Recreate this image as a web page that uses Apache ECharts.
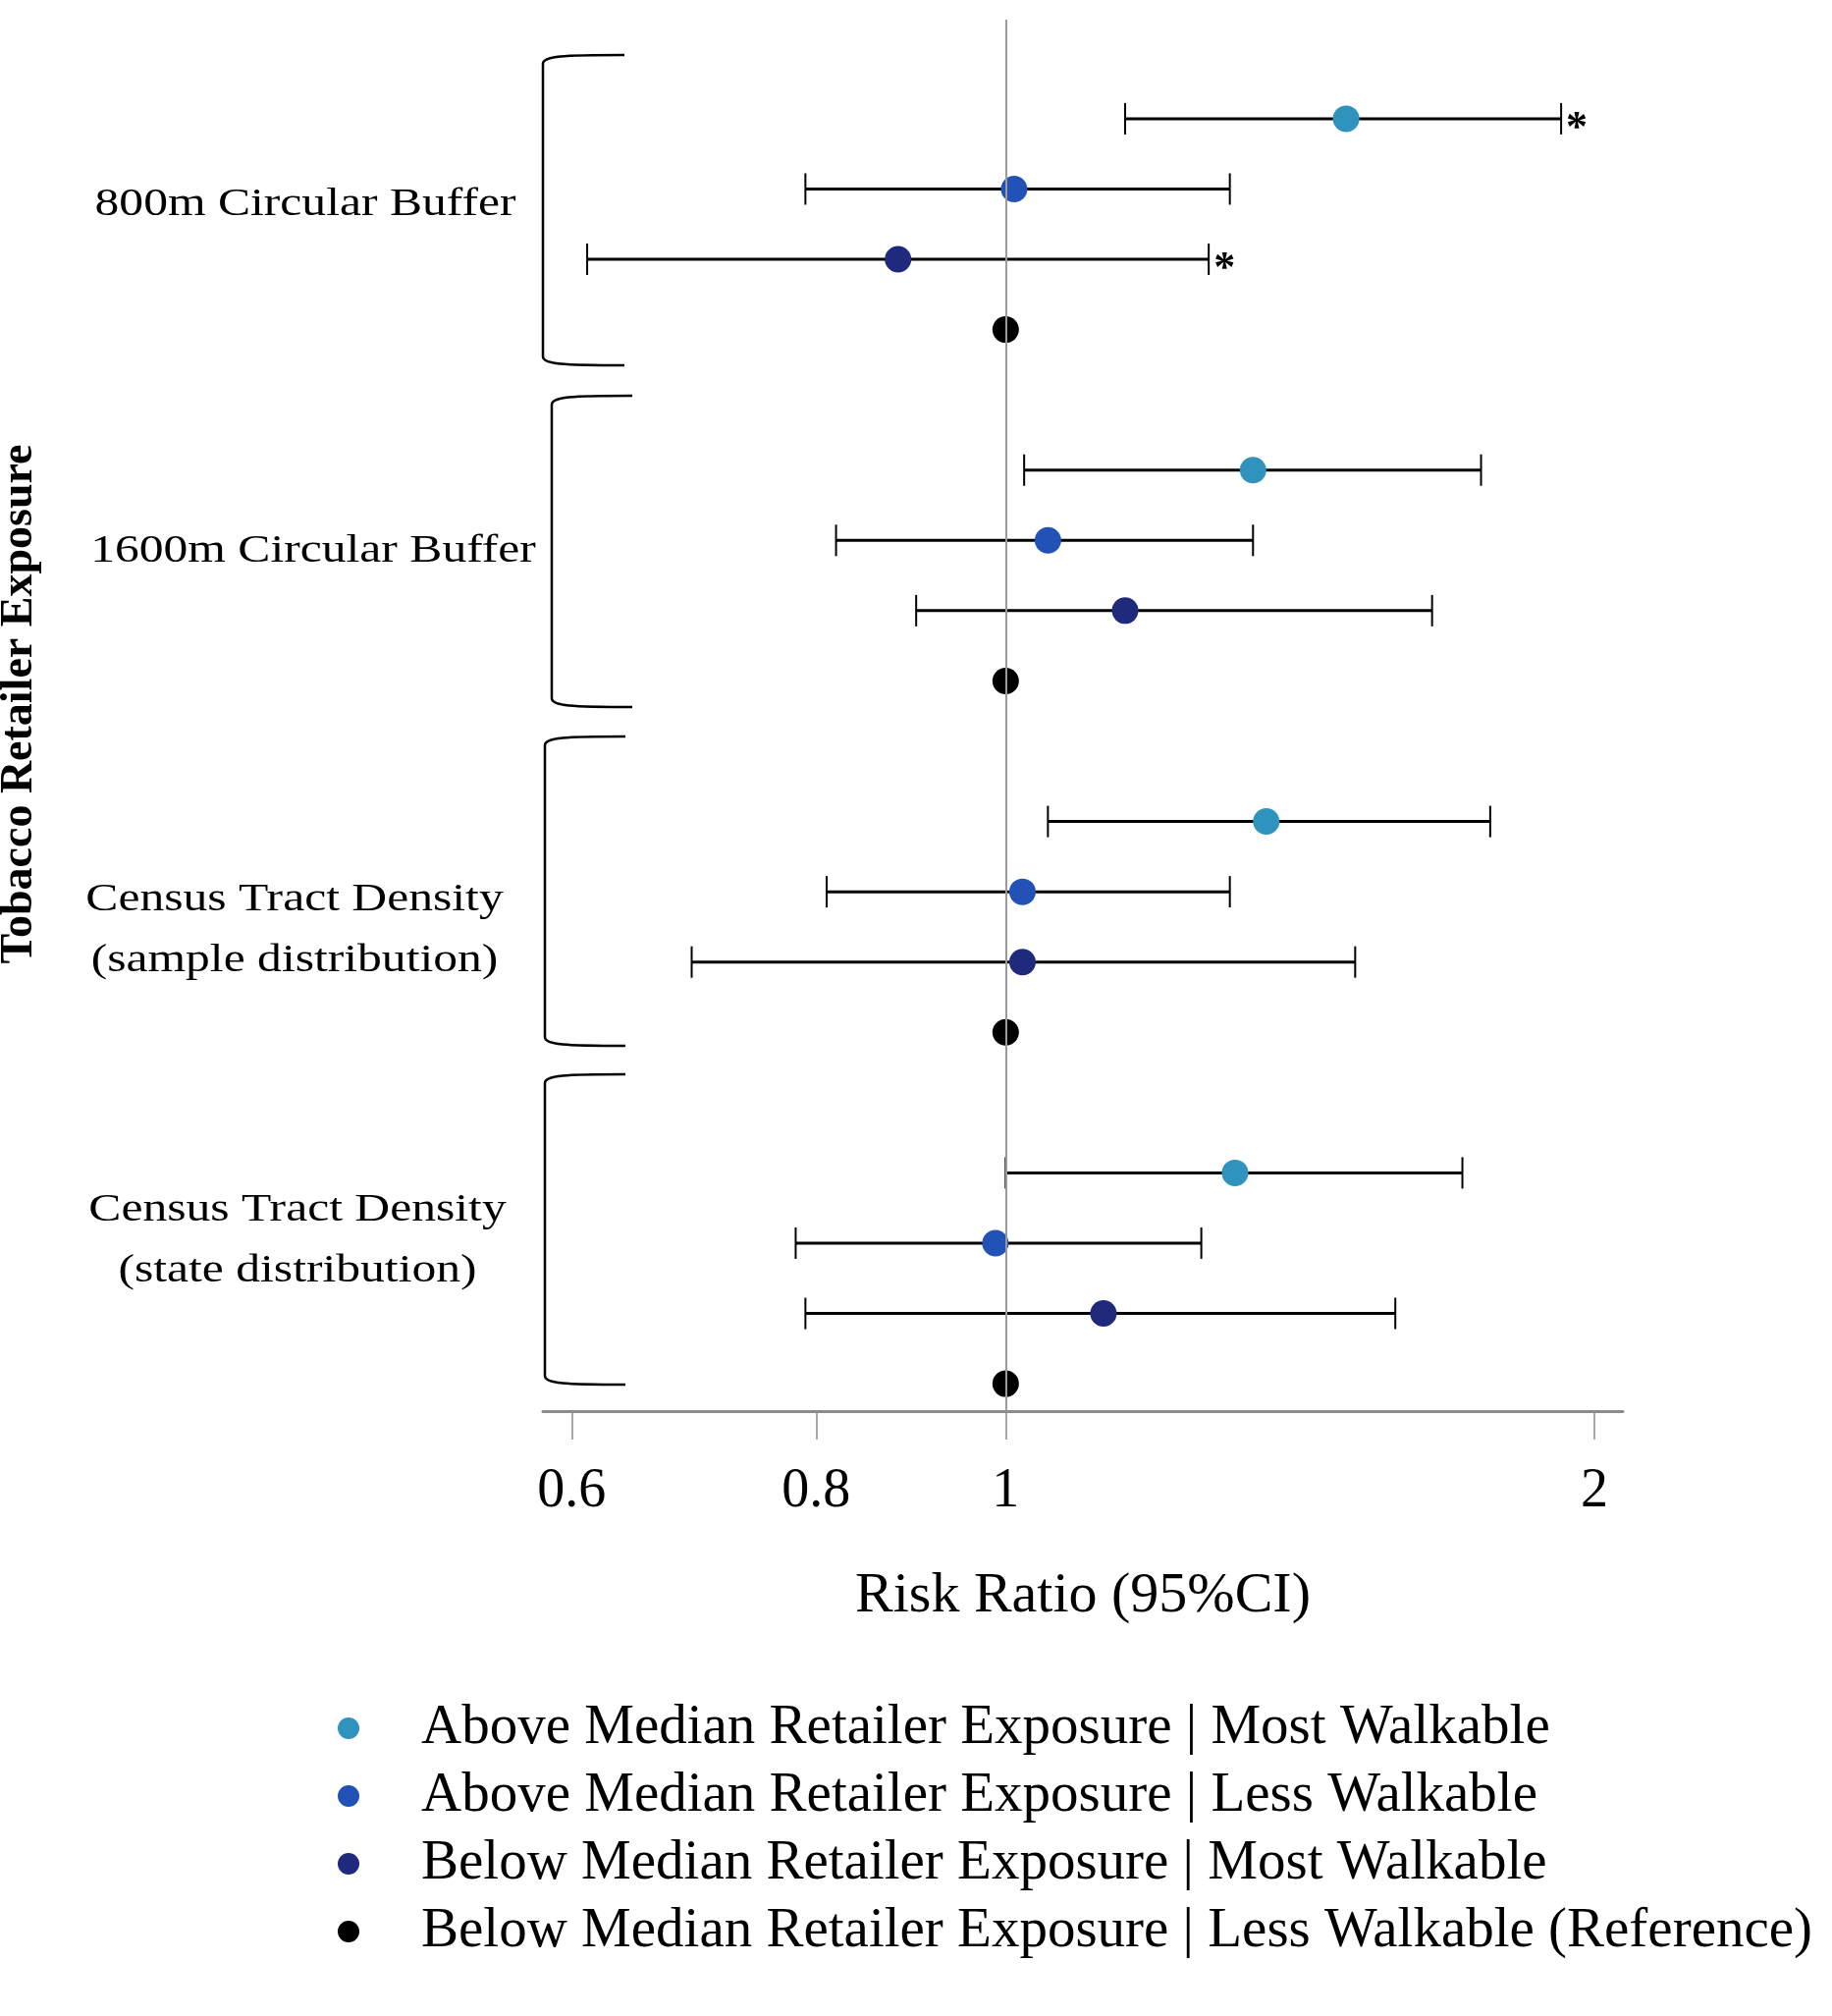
<!DOCTYPE html>
<html>
<head>
<meta charset="utf-8">
<title>Tobacco retailer exposure forest plot</title>
<script src="https://cdn.jsdelivr.net/npm/echarts@6/dist/echarts.min.js"></script>
<style>
html, body { margin: 0; padding: 0; background: #fff; }
#chart { width: 1866px; height: 2053px; }
</style>
</head>
<body>
<div id="chart"></div>
<script>
// exposure measures (one block of rows each)
var groups = ['800m Circular Buffer', '1600m Circular Buffer', 'Census Tract Density\n(sample distribution)', 'Census Tract Density\n(state distribution)'];
var seriesNames = [
	'Above Median Retailer Exposure | Most Walkable',
	'Above Median Retailer Exposure | Less Walkable',
	'Below Median Retailer Exposure | Most Walkable',
	'Below Median Retailer Exposure | Less Walkable (Reference)'
];

// risk ratios and 95% CI, one value per group
var aboveMostRR = [1.493, 1.338, 1.359, 1.310];
var aboveMostLow = [1.151, 1.022, 1.051, 1.000];
var aboveMostHigh = [1.923, 1.750, 1.769, 1.712];
var aboveMostSig = [true, false, false, false];

var aboveLessRR = [1.010, 1.051, 1.020, 0.988];
var aboveLessLow = [0.790, 0.819, 0.810, 0.781];
var aboveLessHigh = [1.302, 1.338, 1.302, 1.259];
var aboveLessSig = [false, false, false, false];

var belowMostRR = [0.881, 1.151, 1.020, 1.122];
var belowMostLow = [0.611, 0.900, 0.691, 0.790];
var belowMostHigh = [1.270, 1.652, 1.509, 1.582];
var belowMostSig = [true, false, false, false];

var referenceRR = [1, 1, 1, 1];

var tickValues = [0.6, 0.8, 1, 2];

var colors = ['#2f93bd', '#2352b7', '#1f2a7c', '#000000'];
var serif = '"Liberation Serif", "Times New Roman", serif';

var rrList = [aboveMostRR, aboveLessRR, belowMostRR, referenceRR];
var ciList = [
	[aboveMostLow, aboveMostHigh, aboveMostSig],
	[aboveLessLow, aboveLessHigh, aboveLessSig],
	[belowMostLow, belowMostHigh, belowMostSig]
];

function rowOf(g, s) {
	return g * 5 + s;
}

// error bars: [ln low, ln high, row, significant]
var ciData = [];
for(var s = 0; s < ciList.length; s++) {
	for(var g = 0; g < groups.length; g++) {
		ciData.push([Math.log(ciList[s][0][g]), Math.log(ciList[s][1][g]), rowOf(g, s), ciList[s][2][g] ? 1 : 0]);
	}
}

var chart = echarts.init(document.getElementById('chart'));

var series = [{
	type: 'custom',
	name: 'ci',
	z: 1,
	clip: false,
	silent: true,
	encode: { x: [0, 1], y: 2 },
	data: ciData,
	renderItem: function(params, api) {
		var p1 = api.coord([api.value(0), api.value(2)]);
		var p2 = api.coord([api.value(1), api.value(2)]);
		var cap = 16;
		var children = [{
			type: 'line',
			shape: { x1: p1[0], y1: p1[1], x2: p2[0], y2: p2[1] },
			style: { stroke: '#000', lineWidth: 3 }
		}, {
			type: 'line',
			shape: { x1: p1[0], y1: p1[1] - cap, x2: p1[0], y2: p1[1] + cap },
			style: { stroke: '#000', lineWidth: 2 }
		}, {
			type: 'line',
			shape: { x1: p2[0], y1: p2[1] - cap, x2: p2[0], y2: p2[1] + cap },
			style: { stroke: '#000', lineWidth: 2 }
		}];
		if(api.value(3)) {
			children.push({
				type: 'text',
				style: {
					text: '*',
					x: p2[0] + 5,
					y: p2[1] + 11,
					font: 'bold 44px ' + serif,
					textAlign: 'left',
					textVerticalAlign: 'middle',
					fill: '#000'
				}
			});
		}
		return { type: 'group', children: children };
	}
}, {
	type: 'line',
	name: 'ref',
	z: 2,
	data: [],
	silent: true,
	markLine: {
		silent: true,
		symbol: 'none',
		label: { show: false },
		lineStyle: { color: '#9a9a9a', width: 2, type: 'solid' },
		data: [{ xAxis: 0 }]
	}
}];

for(var k = 0; k < seriesNames.length; k++) {
	var pts = [];
	for(var g2 = 0; g2 < groups.length; g2++) {
		pts.push([Math.log(rrList[k][g2]), rowOf(g2, k)]);
	}
	series.push({
		type: 'scatter',
		name: seriesNames[k],
		z: 3,
		symbol: 'circle',
		symbolSize: 27,
		itemStyle: { color: colors[k], opacity: 1 },
		data: pts
	});
}

// group labels, brackets and the vertical axis title at the left
var labelPos = [[311, 208], [319, 561], [300, 947], [303, 1263]];
var bracketPos = [[553, 56, 372, 636], [562, 403, 720, 644], [555, 750, 1065, 637], [555, 1094, 1410, 637]];
var graphics = [{
	type: 'text',
	x: 20,
	y: 717,
	rotation: Math.PI / 2,
	style: {
		text: 'Tobacco Retailer Exposure',
		font: 'bold 46px ' + serif,
		textAlign: 'center',
		textVerticalAlign: 'middle',
		fill: '#000'
	}
}];
var bStyle = { fill: 'none', stroke: '#000', lineWidth: 2.5 };
for(var i = 0; i < groups.length; i++) {
	graphics.push({
		type: 'text',
		x: labelPos[i][0],
		y: labelPos[i][1],
		scaleX: 1.21,
		style: {
			text: groups[i],
			font: '41px ' + serif,
			lineHeight: 62,
			textAlign: 'center',
			textVerticalAlign: 'middle',
			fill: '#000'
		}
	});
	var b = bracketPos[i];
	graphics.push({
		type: 'bezierCurve',
		shape: { x1: b[0], y1: b[1] + 9, cpx1: b[0], cpy1: b[1] + 1, cpx2: b[0] + 20, cpy2: b[1], x2: b[3], y2: b[1] },
		style: bStyle
	}, {
		type: 'line',
		shape: { x1: b[0], y1: b[1] + 9, x2: b[0], y2: b[2] - 9 },
		style: bStyle
	}, {
		type: 'bezierCurve',
		shape: { x1: b[0], y1: b[2] - 9, cpx1: b[0], cpy1: b[2] - 1, cpx2: b[0] + 20, cpy2: b[2], x2: b[3], y2: b[2] },
		style: bStyle
	});
}

var option = {
	backgroundColor: '#fff',
	animation: false,
	grid: {
		left: 553,
		right: 213,
		top: 20,
		bottom: 616,
		containLabel: false,
		outerBoundsMode: 'none'
	},
	xAxis: {
		type: 'value',
		position: 'bottom',
		min: Math.log(0.58),
		max: Math.log(2.068),
		name: 'Risk Ratio (95%CI)',
		nameLocation: 'middle',
		nameGap: 160,
		nameTextStyle: {
			fontFamily: serif,
			fontSize: 58,
			color: '#000'
		},
		axisLine: { show: true, onZero: false, lineStyle: { color: '#8c8c8c', width: 3 } },
		axisTick: {
			show: true,
			length: 29,
			lineStyle: { color: '#8c8c8c', width: 1.5 },
			customValues: tickValues.map(function(v) { return Math.log(v); })
		},
		axisLabel: {
			margin: 54,
			fontFamily: serif,
			fontSize: 56,
			color: '#000',
			customValues: tickValues.map(function(v) { return Math.log(v); }),
			formatter: function(v) {
				return String(+Math.exp(v).toFixed(1));
			}
		},
		splitLine: { show: false }
	},
	yAxis: {
		type: 'value',
		inverse: true,
		min: -1.41,
		max: 18.39,
		axisLine: { show: false },
		axisTick: { show: false },
		axisLabel: { show: false },
		splitLine: { show: false }
	},
	legend: {
		data: seriesNames,
		orient: 'vertical',
		left: 344,
		top: 1730,
		padding: 0,
		itemWidth: 22,
		itemHeight: 22,
		itemGap: 9,
		icon: 'circle',
		textStyle: {
			fontFamily: serif,
			fontSize: 57,
			lineHeight: 60,
			color: '#000',
			padding: [0, 0, 0, 58]
		}
	},
	graphic: graphics,
	series: series
};

chart.setOption(option);
</script>
</body>
</html>
